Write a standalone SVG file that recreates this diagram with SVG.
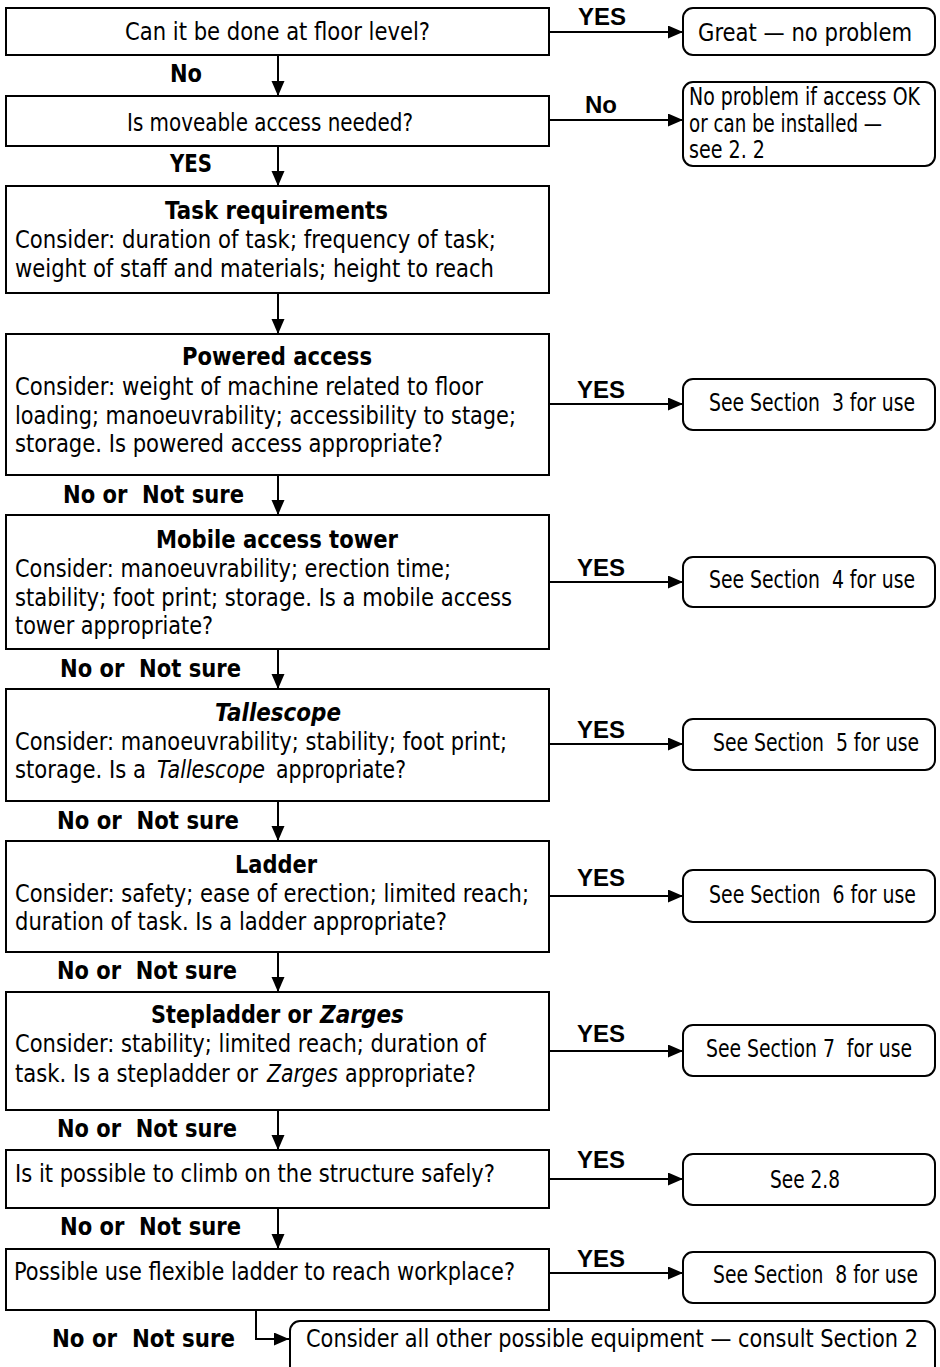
<svg xmlns="http://www.w3.org/2000/svg" width="940" height="1367" viewBox="0 0 940 1367">
<style>
.box{fill:#fff;stroke:#000;stroke-width:2}
.t{font-family:"DejaVu Sans",Verdana,sans-serif;font-size:24px;fill:#000}
.b{font-weight:bold}
.i{font-style:italic}
.y{font-family:"Liberation Sans",Arial,sans-serif;font-weight:bold;font-size:24px;fill:#000}
.ln{stroke:#000;stroke-width:2;fill:none}
</style>
<defs>
<marker id="ah" markerUnits="userSpaceOnUse" markerWidth="16" markerHeight="14" refX="15" refY="6.5" orient="auto">
<path d="M0,0 L15,6.5 L0,13 z" fill="#000"/>
</marker>
</defs>
<rect width="940" height="1367" fill="#fff"/>

<g id="connectors">
<line class="ln" x1="278" y1="55" x2="278" y2="96" marker-end="url(#ah)"/>
<line class="ln" x1="278" y1="146" x2="278" y2="186" marker-end="url(#ah)"/>
<line class="ln" x1="278" y1="293" x2="278" y2="334" marker-end="url(#ah)"/>
<line class="ln" x1="278" y1="475" x2="278" y2="515" marker-end="url(#ah)"/>
<line class="ln" x1="278" y1="649" x2="278" y2="689" marker-end="url(#ah)"/>
<line class="ln" x1="278" y1="801" x2="278" y2="841" marker-end="url(#ah)"/>
<line class="ln" x1="278" y1="952" x2="278" y2="992" marker-end="url(#ah)"/>
<line class="ln" x1="278" y1="1110" x2="278" y2="1150" marker-end="url(#ah)"/>
<line class="ln" x1="278" y1="1208" x2="278" y2="1249" marker-end="url(#ah)"/>
<path class="ln" d="M256,1310 V1339 H289" marker-end="url(#ah)"/>
<line class="ln" x1="549" y1="32" x2="683" y2="32" marker-end="url(#ah)"/>
<line class="ln" x1="549" y1="120" x2="683" y2="120" marker-end="url(#ah)"/>
<line class="ln" x1="549" y1="404" x2="683" y2="404" marker-end="url(#ah)"/>
<line class="ln" x1="549" y1="582" x2="683" y2="582" marker-end="url(#ah)"/>
<line class="ln" x1="549" y1="744" x2="683" y2="744" marker-end="url(#ah)"/>
<line class="ln" x1="549" y1="896" x2="683" y2="896" marker-end="url(#ah)"/>
<line class="ln" x1="549" y1="1051" x2="683" y2="1051" marker-end="url(#ah)"/>
<line class="ln" x1="549" y1="1179" x2="683" y2="1179" marker-end="url(#ah)"/>
<line class="ln" x1="549" y1="1273" x2="683" y2="1273" marker-end="url(#ah)"/>
<text class="t b" x="170" y="82" textLength="32" lengthAdjust="spacingAndGlyphs">No</text>
<text class="t b" x="170" y="172" textLength="42" lengthAdjust="spacingAndGlyphs">YES</text>
<text class="t b" xml:space="preserve" x="63" y="503" textLength="181" lengthAdjust="spacingAndGlyphs">No or  Not sure</text>
<text class="t b" xml:space="preserve" x="60" y="677" textLength="181" lengthAdjust="spacingAndGlyphs">No or  Not sure</text>
<text class="t b" xml:space="preserve" x="57" y="829" textLength="182" lengthAdjust="spacingAndGlyphs">No or  Not sure</text>
<text class="t b" xml:space="preserve" x="57" y="979" textLength="180" lengthAdjust="spacingAndGlyphs">No or  Not sure</text>
<text class="t b" xml:space="preserve" x="57" y="1137" textLength="180" lengthAdjust="spacingAndGlyphs">No or  Not sure</text>
<text class="t b" xml:space="preserve" x="60" y="1235" textLength="181" lengthAdjust="spacingAndGlyphs">No or  Not sure</text>
<text class="t b" xml:space="preserve" x="52" y="1347" textLength="183" lengthAdjust="spacingAndGlyphs">No or  Not sure</text>
<text class="y" x="578" y="25">YES</text>
<text class="y" x="585" y="113">No</text>
<text class="y" x="577" y="398">YES</text>
<text class="y" x="577" y="576">YES</text>
<text class="y" x="577" y="738">YES</text>
<text class="y" x="577" y="886">YES</text>
<text class="y" x="577" y="1042">YES</text>
<text class="y" x="577" y="1168">YES</text>
<text class="y" x="577" y="1267">YES</text>
</g>

<g id="floor-level">
<rect class="box" x="6" y="8" width="543" height="47"/>
<text class="t" x="125" y="40" textLength="305" lengthAdjust="spacingAndGlyphs">Can it be done at floor level?</text>
</g>
<g id="moveable">
<rect class="box" x="6" y="96" width="543" height="50"/>
<text class="t" x="127" y="131" textLength="286" lengthAdjust="spacingAndGlyphs">Is moveable access needed?</text>
</g>
<g id="task">
<rect class="box" x="6" y="186" width="543" height="107"/>
<text class="t b" x="165" y="219" textLength="223" lengthAdjust="spacingAndGlyphs">Task requirements</text>
<text class="t" x="15" y="248" textLength="481" lengthAdjust="spacingAndGlyphs">Consider: duration of task; frequency of task;</text>
<text class="t" x="15" y="277" textLength="479" lengthAdjust="spacingAndGlyphs">weight of staff and materials; height to reach</text>
</g>
<g id="powered">
<rect class="box" x="6" y="334" width="543" height="141"/>
<text class="t b" x="182" y="365" textLength="190" lengthAdjust="spacingAndGlyphs">Powered access</text>
<text class="t" x="15" y="395" textLength="468" lengthAdjust="spacingAndGlyphs">Consider: weight of machine related to floor</text>
<text class="t" x="15" y="424" textLength="501" lengthAdjust="spacingAndGlyphs">loading; manoeuvrability; accessibility to stage;</text>
<text class="t" x="15" y="452" textLength="428" lengthAdjust="spacingAndGlyphs">storage. Is powered access appropriate?</text>
</g>
<g id="tower">
<rect class="box" x="6" y="515" width="543" height="134"/>
<text class="t b" x="156" y="548" textLength="242" lengthAdjust="spacingAndGlyphs">Mobile access tower</text>
<text class="t" x="15" y="577" textLength="436" lengthAdjust="spacingAndGlyphs">Consider: manoeuvrability; erection time;</text>
<text class="t" x="15" y="606" textLength="497" lengthAdjust="spacingAndGlyphs">stability; foot print; storage. Is a mobile access</text>
<text class="t" x="15" y="634" textLength="198" lengthAdjust="spacingAndGlyphs">tower appropriate?</text>
</g>
<g id="tallescope">
<rect class="box" x="6" y="689" width="543" height="112"/>
<text class="t b i" x="215" y="721" textLength="126" lengthAdjust="spacingAndGlyphs">Tallescope</text>
<text class="t" x="15" y="750" textLength="492" lengthAdjust="spacingAndGlyphs">Consider: manoeuvrability; stability; foot print;</text>
<text class="t" x="15" y="778" textLength="131" lengthAdjust="spacingAndGlyphs">storage. Is a</text>
<text class="t i" x="157" y="778" textLength="108" lengthAdjust="spacingAndGlyphs">Tallescope</text>
<text class="t" x="276" y="778" textLength="130" lengthAdjust="spacingAndGlyphs">appropriate?</text>
</g>
<g id="ladder">
<rect class="box" x="6" y="841" width="543" height="111"/>
<text class="t b" x="235" y="873" textLength="82" lengthAdjust="spacingAndGlyphs">Ladder</text>
<text class="t" x="15" y="902" textLength="514" lengthAdjust="spacingAndGlyphs">Consider: safety; ease of erection; limited reach;</text>
<text class="t" x="15" y="930" textLength="432" lengthAdjust="spacingAndGlyphs">duration of task. Is a ladder appropriate?</text>
</g>
<g id="stepladder">
<rect class="box" x="6" y="992" width="543" height="118"/>
<text class="t b" x="151" y="1023" textLength="161" lengthAdjust="spacingAndGlyphs">Stepladder or</text>
<text class="t b i" x="320" y="1023" textLength="84" lengthAdjust="spacingAndGlyphs">Zarges</text>
<text class="t" x="15" y="1052" textLength="471" lengthAdjust="spacingAndGlyphs">Consider: stability; limited reach; duration of</text>
<text class="t" x="15" y="1082" textLength="243" lengthAdjust="spacingAndGlyphs">task. Is a stepladder or</text>
<text class="t i" x="267" y="1082" textLength="71" lengthAdjust="spacingAndGlyphs">Zarges</text>
<text class="t" x="345" y="1082" textLength="131" lengthAdjust="spacingAndGlyphs">appropriate?</text>
</g>
<g id="climb">
<rect class="box" x="6" y="1150" width="543" height="58"/>
<text class="t" x="15" y="1182" textLength="480" lengthAdjust="spacingAndGlyphs">Is it possible to climb on the structure safely?</text>
</g>
<g id="flexible">
<rect class="box" x="6" y="1249" width="543" height="61"/>
<text class="t" x="14" y="1280" textLength="501" lengthAdjust="spacingAndGlyphs">Possible use flexible ladder to reach workplace?</text>
</g>

<g id="great">
<rect class="box" x="683" y="8" width="252" height="47" rx="10"/>
<text class="t" x="698" y="41" textLength="214" lengthAdjust="spacingAndGlyphs">Great — no problem</text>
</g>
<g id="no-problem">
<rect class="box" x="683" y="82" width="252" height="84" rx="10"/>
<text class="t" x="689" y="105" textLength="231" lengthAdjust="spacingAndGlyphs">No problem if access OK</text>
<text class="t" x="689" y="132" textLength="193" lengthAdjust="spacingAndGlyphs">or can be installed —</text>
<text class="t" x="689" y="158" textLength="76" lengthAdjust="spacingAndGlyphs">see 2. 2</text>
</g>
<g id="sec3">
<rect class="box" x="683" y="379" width="252" height="51" rx="10"/>
<text class="t" xml:space="preserve" x="709" y="411" textLength="206" lengthAdjust="spacingAndGlyphs">See Section  3 for use</text>
</g>
<g id="sec4">
<rect class="box" x="683" y="557" width="252" height="50" rx="10"/>
<text class="t" xml:space="preserve" x="709" y="588" textLength="206" lengthAdjust="spacingAndGlyphs">See Section  4 for use</text>
</g>
<g id="sec5">
<rect class="box" x="683" y="719" width="252" height="51" rx="10"/>
<text class="t" xml:space="preserve" x="713" y="751" textLength="206" lengthAdjust="spacingAndGlyphs">See Section  5 for use</text>
</g>
<g id="sec6">
<rect class="box" x="683" y="870" width="252" height="52" rx="10"/>
<text class="t" xml:space="preserve" x="709" y="903" textLength="207" lengthAdjust="spacingAndGlyphs">See Section  6 for use</text>
</g>
<g id="sec7">
<rect class="box" x="683" y="1025" width="252" height="51" rx="10"/>
<text class="t" xml:space="preserve" x="706" y="1057" textLength="206" lengthAdjust="spacingAndGlyphs">See Section 7  for use</text>
</g>
<g id="see28">
<rect class="box" x="683" y="1154" width="252" height="51" rx="10"/>
<text class="t" x="770" y="1188" textLength="70" lengthAdjust="spacingAndGlyphs">See 2.8</text>
</g>
<g id="sec8">
<rect class="box" x="683" y="1252" width="252" height="51" rx="10"/>
<text class="t" xml:space="preserve" x="713" y="1283" textLength="205" lengthAdjust="spacingAndGlyphs">See Section  8 for use</text>
</g>
<g id="other">
<rect class="box" x="290" y="1321" width="645" height="70" rx="10"/>
<text class="t" x="306" y="1347" textLength="612" lengthAdjust="spacingAndGlyphs">Consider all other possible equipment — consult Section 2</text>
</g>
</svg>
